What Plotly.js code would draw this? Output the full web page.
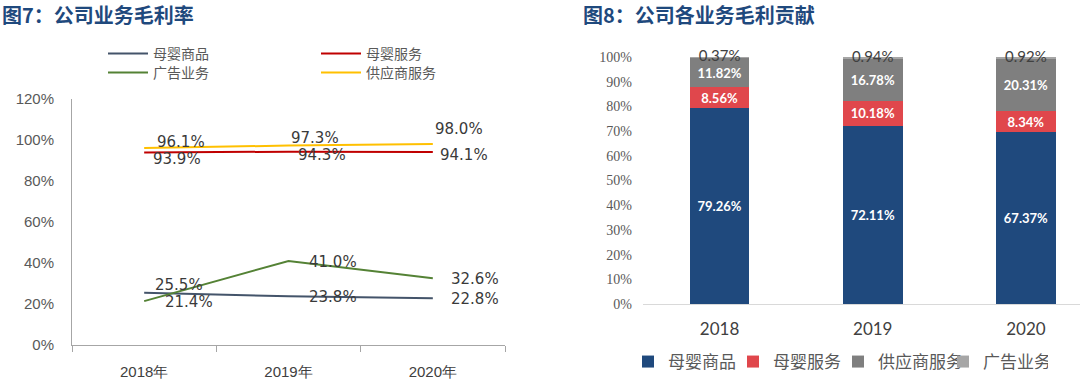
<!DOCTYPE html>
<html><head><meta charset="utf-8">
<script src="https://cdn.plot.ly/plotly-3.0.1.min.js"></script>
<style>
body{margin:0;background:#fff;}
#wrap{position:relative;width:1080px;height:385px;overflow:hidden;}
#left{position:absolute;left:0;top:0;width:540px;height:385px;}
#right{position:absolute;left:540px;top:0;width:540px;height:385px;}
</style>
</head><body>
<div id="wrap"><div id="left"></div><div id="right"></div></div>
<script>
// ---------- Data: 图7 公司业务毛利率 ----------
const marginYears = ['2018年', '2019年', '2020年'];
const mbGoods = [25.5, 23.8, 22.8];      // 母婴商品
const mbService = [93.9, 94.3, 94.1];    // 母婴服务
const adBiz = [21.4, 41.0, 32.6];        // 广告业务
const supplierSvc = [96.1, 97.3, 98.0];  // 供应商服务
const marginTicks = [0, 20, 40, 60, 80, 100, 120];

// ---------- Data: 图8 公司各业务毛利贡献 ----------
const contribYears = ['2018', '2019', '2020'];
const cGoods = [79.26, 72.11, 67.37];    // 母婴商品
const cService = [8.56, 10.18, 8.34];    // 母婴服务
const cSupplier = [11.82, 16.78, 20.31]; // 供应商服务
const cAd = [0.37, 0.94, 0.92];          // 广告业务
const contribTicks = [0, 10, 20, 30, 40, 50, 60, 70, 80, 90, 100];

// ---------- Styles ----------
const TITLE_COLOR = '#1F497D';
const CJK = '"Noto Sans CJK SC", "Liberation Sans", sans-serif';
const lineStyle = {
  goods: '#44546A', service: '#C00000', ad: '#548235', supplier: '#FFC000'
};
// label placement offsets (px) for each series point: [dx, dy]
const labelPlace = {
  supplier: [[11, 6], [0, 8], [0, 15]],
  service: [[7, -6], [7, -3], [5, -3]],
  goods: [[9, 8], [18, -1], [16, -1]],
  ad: [[19, -1], [18, -1], [16, -1]]
};

const leftSeries = [
  {name: '母婴商品', y: mbGoods, key: 'goods', legend: 'legend'},
  {name: '母婴服务', y: mbService, key: 'service', legend: 'legend'},
  {name: '广告业务', y: adBiz, key: 'ad', legend: 'legend2'},
  {name: '供应商服务', y: supplierSvc, key: 'supplier', legend: 'legend2'}
];

const leftTraces = leftSeries.map(s => ({
  type: 'scatter', mode: 'lines', name: s.name, x: marginYears, y: s.y,
  line: {color: lineStyle[s.key], width: 2}, legend: s.legend, hoverinfo: 'skip'
}));

const leftAnn = [];
leftSeries.forEach(s => {
  s.y.forEach((v, i) => {
    leftAnn.push({
      x: marginYears[i], y: v, xref: 'x', yref: 'y', text: v.toFixed(1) + '%',
      showarrow: false, xanchor: 'left', yanchor: 'middle',
      xshift: labelPlace[s.key][i][0], yshift: labelPlace[s.key][i][1],
      font: {family: '"DejaVu Sans", sans-serif', size: 15, color: '#3A3A3A'}
    });
  });
});

const legendCommon = {
  orientation: 'h', xref: 'container', yref: 'container', xanchor: 'left', yanchor: 'middle',
  entrywidth: 158, entrywidthmode: 'pixels', bgcolor: 'rgba(0,0,0,0)', traceorder: 'normal',
  itemwidth: 40,
  font: {family: CJK, size: 14, color: '#595959'}, itemclick: false, itemdoubleclick: false
};

const leftLayout = {
  width: 540, height: 385,
  margin: {l: 72, r: 35, t: 99, b: 40},
  paper_bgcolor: '#fff', plot_bgcolor: '#fff',
  title: {
    text: '<b>图7：公司业务毛利率</b>', xref: 'container', yref: 'container',
    x: 2 / 540, y: 1 - 16 / 385, xanchor: 'left', yanchor: 'middle',
    font: {family: CJK, size: 20, color: TITLE_COLOR}
  },
  showlegend: true,
  legend: Object.assign({}, legendCommon, {x: 103 / 540, y: 1 - 54 / 385}),
  legend2: Object.assign({}, legendCommon, {x: 103 / 540, y: 1 - 73 / 385}),
  xaxis: {
    type: 'category', range: [-0.5, 2.5], showline: true, linecolor: '#A6A6A6', linewidth: 1,
    ticks: 'outside', tickson: 'boundaries', ticklen: 6, tickcolor: '#A6A6A6',
    showgrid: false, zeroline: false, ticklabelstandoff: 13,
    tickfont: {family: '"Liberation Sans", Arial, sans-serif', size: 15, color: '#404040'}
  },
  yaxis: {
    range: [0, 120], tickvals: marginTicks, ticktext: marginTicks.map(t => t + '%'),
    showline: true, linecolor: '#A6A6A6', linewidth: 1, showgrid: false, zeroline: false,
    ticks: '', ticklabelstandoff: 14,
    tickfont: {family: '"Liberation Sans", Arial, sans-serif', size: 15, color: '#595959'}
  },
  annotations: leftAnn
};

Plotly.newPlot('left', leftTraces, leftLayout, {displayModeBar: false, staticPlot: true});

// ---------- Right chart ----------
const barStyle = {
  goods: {color: '#1F497D', text: '#FFFFFF'},
  service: {color: '#E0474C', text: '#FFFFFF'},
  supplier: {color: '#7F7F7F', text: '#FFFFFF'},
  ad: {color: '#A6A6A6', text: '#404040'}
};
const rightSeries = [
  {name: '母婴商品', y: cGoods, key: 'goods'},
  {name: '母婴服务', y: cService, key: 'service'},
  {name: '供应商服务', y: cSupplier, key: 'supplier'},
  {name: '广告业务', y: cAd, key: 'ad'}
];
const rightTraces = rightSeries.map(s => ({
  type: 'bar', name: s.name, x: contribYears, y: s.y, width: 0.39,
  marker: {color: barStyle[s.key].color, line: {width: 0}},
  text: s.key === 'ad' ? null : s.y.map(v => v.toFixed(2) + '%'),
  textposition: s.key === 'ad' ? 'none' : 'inside', textangle: 0,
  insidetextanchor: 'middle', constraintext: 'none', cliponaxis: false,
  textfont: {family: 'Lato, "Open Sans", sans-serif', size: 13, weight: 'bold', color: barStyle[s.key].text},
  hoverinfo: 'skip'
}));
// labels of the thin top segment (广告业务), centred on the segment in the 100% stack
const stackTotals = contribYears.map((_, i) => cGoods[i] + cService[i] + cSupplier[i] + cAd[i]);
rightTraces.push({
  type: 'scatter', mode: 'text', x: contribYears, showlegend: false, cliponaxis: false,
  y: cAd.map((v, i) => 100 - (v / stackTotals[i]) * 100 / 2),
  text: cAd.map(v => v.toFixed(2) + '%'), textposition: 'middle center',
  textfont: {family: 'Lato, "Open Sans", sans-serif', size: 15, color: barStyle.ad.text},
  hoverinfo: 'skip'
});

const rightLayout = {
  width: 540, height: 385,
  margin: {l: 103, r: 0, t: 57, b: 81},
  paper_bgcolor: '#fff', plot_bgcolor: '#fff',
  title: {
    text: '<b>图8：公司各业务毛利贡献</b>', xref: 'container', yref: 'container',
    x: 43 / 540, y: 1 - 16 / 385, xanchor: 'left', yanchor: 'middle',
    font: {family: CJK, size: 20, color: TITLE_COLOR}
  },
  barmode: 'stack', barnorm: 'percent',
  showlegend: true,
  legend: {
    orientation: 'h', xref: 'container', yref: 'container', x: 88 / 540, y: 1 - 362 / 385,
    xanchor: 'left', yanchor: 'middle', entrywidth: 60, entrywidthmode: 'pixels',
    traceorder: 'normal', bgcolor: 'rgba(0,0,0,0)',
    font: {family: CJK, size: 17, color: '#595959'}, itemclick: false, itemdoubleclick: false
  },
  xaxis: {
    type: 'category', range: [-0.5, 2.353], showline: true, linecolor: '#D9D9D9', linewidth: 1,
    ticks: '', showgrid: false, zeroline: false, ticklabelstandoff: 10,
    tickfont: {family: 'Lato, "Open Sans", sans-serif', size: 17, color: '#404040'}
  },
  yaxis: {
    range: [0, 100], tickvals: contribTicks, ticktext: contribTicks.map(t => t + '%'),
    showline: false, showgrid: false, zeroline: false, ticks: '', ticklabelstandoff: 10,
    tickfont: {family: '"Liberation Serif", serif', size: 14, color: '#595959'}
  }
};

Plotly.newPlot('right', rightTraces, rightLayout, {displayModeBar: false, staticPlot: true});
</script>
</body></html>
